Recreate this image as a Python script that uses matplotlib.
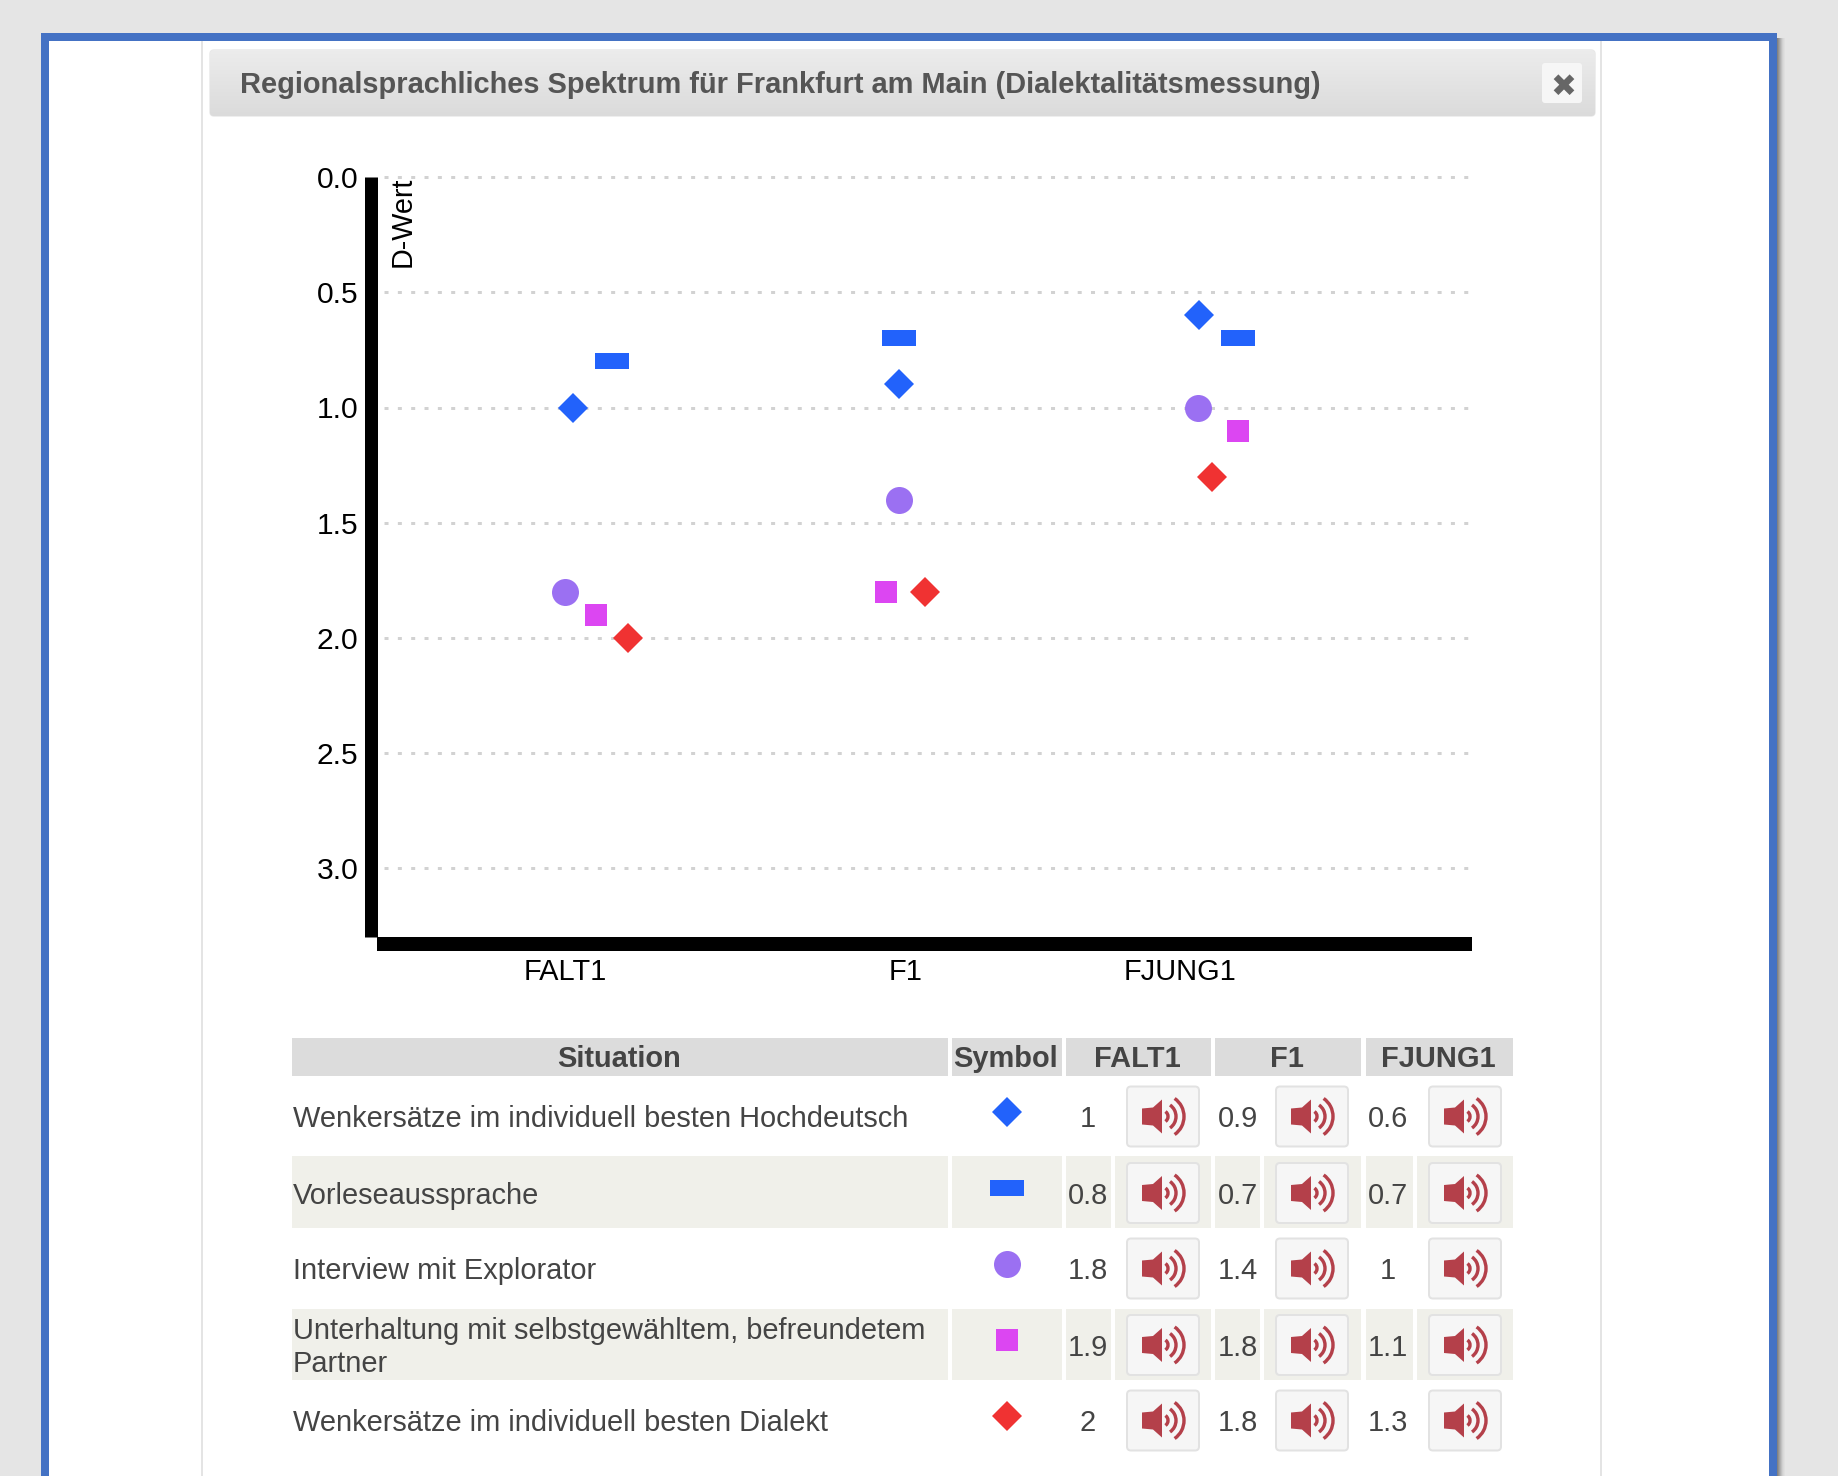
import numpy as np
import matplotlib
matplotlib.use("Agg")
import matplotlib.pyplot as plt
from matplotlib.patches import Rectangle, FancyBboxPatch, Polygon, Arc

plt.rcParams["font.family"] = ["Liberation Sans", "DejaVu Sans"]
plt.rcParams["lines.scale_dashes"] = False

W, H = 1838, 1476
PX = 72 / 100  # one pixel in points at dpi 100

title = "Regionalsprachliches Spektrum für Frankfurt am Main (Dialektalitätsmessung)"
speakers = ["FALT1", "F1", "FJUNG1"]
speaker_ticks = [565, 906, 1180]
situations = [
    "Wenkersätze im individuell besten Hochdeutsch",
    "Vorleseaussprache",
    "Interview mit Explorator",
    "Unterhaltung mit selbstgewähltem, befreundetem\nPartner",
    "Wenkersätze im individuell besten Dialekt",
]

# D-values, one list per situation (FALT1, F1, FJUNG1)
wenker_hd = [1, 0.9, 0.6]
vorlesen = [0.8, 0.7, 0.7]
interview = [1.8, 1.4, 1]
unterhaltung = [1.9, 1.8, 1.1]
wenker_dial = [2, 1.8, 1.3]
values = [wenker_hd, vorlesen, interview, unterhaltung, wenker_dial]

# horizontal spot of each mark
x_wenker_hd = [573, 899, 1199]
x_vorlesen = [612, 899, 1238]
x_interview = [565, 899, 1198]
x_unterhaltung = [596, 886, 1238]
x_wenker_dial = [628, 925, 1212]
x_values = [x_wenker_hd, x_vorlesen, x_interview, x_unterhaltung, x_wenker_dial]

y_ticks = [0.0, 0.5, 1.0, 1.5, 2.0, 2.5, 3.0]

BAR = [(-1, -0.49), (1, -0.49), (1, 0.49), (-1, 0.49)]
styles = [
    dict(marker="D", ms=21.5 * PX, color="#2262fb"),
    dict(marker=BAR, ms=34 * PX, color="#2262fb"),
    dict(marker="o", ms=27 * PX, color="#9b70f2"),
    dict(marker="s", ms=23 * PX, color="#dc46f2"),
    dict(marker="D", ms=21.5 * PX, color="#f03232"),
]


def fpx(px):
    return px * PX


fig = plt.figure(figsize=(W / 100, H / 100), dpi=100, facecolor="#e5e5e5")

# page furniture, drawn in pixel coordinates
bg = fig.add_axes([0, 0, 1, 1])
bg.set_xlim(0, W)
bg.set_ylim(H, 0)
bg.axis("off")


def box(x0, y0, x1, y1, color, z=1, **kw):
    bg.add_patch(Rectangle((x0, y0), x1 - x0, y1 - y0, facecolor=color, edgecolor="none", zorder=z, **kw))


# frame with its shadow
for i, a in enumerate([0.62, 0.52, 0.42, 0.32, 0.22, 0.13, 0.07, 0.03]):
    box(1777 + i, 38, 1778 + i, H, "#444444", z=1, alpha=a)
box(41, 33, 1777, H, "#4472c4", z=2)
box(49, 41, 1769, H, "white", z=3)
box(201, 41, 203, H, "#e4e4e4", z=4)
box(1600, 41, 1602, H, "#e4e4e4", z=4)

# header bar
head = FancyBboxPatch((212, 52), 1381, 62, boxstyle="round,pad=2,rounding_size=4",
                      facecolor="#dddddd", edgecolor="#e8e8e8", lw=1, zorder=5)
bg.add_patch(head)
grad = np.linspace(0, 1, 64).reshape(-1, 1)
im = bg.imshow(grad, extent=(210, 1595, 116, 50), aspect="auto", zorder=5.5,
               cmap=matplotlib.colors.LinearSegmentedColormap.from_list("h", ["#ececec", "#dbdbdb"]))
im.set_clip_path(head)
bg.set_xlim(0, W)
bg.set_ylim(H, 0)
bg.text(240, 85, title, fontsize=fpx(29.05), fontweight="bold", color="#555555", va="center", ha="left", zorder=6)
bg.add_patch(FancyBboxPatch((1544, 65), 36, 36, boxstyle="round,pad=2,rounding_size=3",
                            facecolor="#f6f6f6", edgecolor="none", zorder=6))
bg.text(1563, 87, "\u2716", fontsize=fpx(31), color="#666666", family="DejaVu Sans",
        ha="center", va="center", zorder=7)

# chart
L, R, T, B = 377, 1472, 177, 937
ax = fig.add_axes([L / W, 1 - B / H, (R - L) / W, (B - T) / H])
ax.patch.set_visible(False)
ax.set_xlim(L, R)
ax.set_ylim((B - T) / 230.5, 0)
ax.set_axisbelow(True)
ax.yaxis.grid(True, color="#d2d2d2", lw=fpx(3), linestyle=(fpx(6.3), (fpx(4), fpx(9.33))), clip_on=False)
for name in ["top", "right"]:
    ax.spines[name].set_visible(False)
ax.spines["left"].set_position(("outward", fpx(6.5)))
ax.spines["left"].set_linewidth(fpx(13))
ax.spines["bottom"].set_position(("outward", fpx(7)))
ax.spines["bottom"].set_linewidth(fpx(14))
ax.spines["left"].set_capstyle("butt")
ax.spines["bottom"].set_capstyle("butt")
ax.set_yticks(y_ticks, [f"{v:.1f}" for v in y_ticks])
ax.set_xticks(speaker_ticks, speakers)
ax.tick_params(length=0, labelsize=fpx(29), labelcolor="black")
ax.tick_params(axis="y", labelsize=fpx(30), pad=fpx(12))
ax.tick_params(axis="x", pad=fpx(14))
ax.text(403, 0, "D-Wert", rotation=90, fontsize=fpx(28.8), color="black", ha="center", va="top")

for vals, xs, st in zip(values, x_values, styles):
    ax.plot(xs, vals, ls="none", marker=st["marker"], ms=st["ms"], color=st["color"], mew=0, zorder=3)

# table below the chart
TXT = "#444444"
head_cols = [(292, 948, "Situation"), (952, 1062, "Symbol"), (1066, 1211, speakers[0]),
             (1215, 1361, speakers[1]), (1366, 1513, speakers[2])]
for x0, x1, lab in head_cols:
    box(x0, 1038, x1, 1076, "#dcdcdc", z=4)
    bg.text((x0 + x1) / 2 - 1, 1059, lab, fontsize=fpx(29), fontweight="bold", color=TXT, ha="center", va="center", zorder=5)

row_mid = [1116.5, 1193, 1268.5, 1345, 1420.5]
sym_mid = [1112, 1188, 1264, 1340, 1416]
stripes = [(1156, 1228), (1309, 1380)]
cells = [(292, 948), (952, 1062), (1066, 1111), (1115, 1211), (1215, 1260), (1264, 1361), (1366, 1413), (1417, 1513)]
for y0, y1 in stripes:
    for x0, x1 in cells:
        box(x0, y0, x1, y1, "#f0f0ea", z=4)

value_x = [1088, 1238, 1388]
button_x = [1127, 1276, 1429]


def speaker_icon(x0, ymid):
    bg.add_patch(FancyBboxPatch((x0 + 2, ymid - 28), 68, 56, boxstyle="round,pad=2,rounding_size=4",
                                facecolor="#f6f6f6", edgecolor="#e2e2e2", lw=fpx(2), zorder=5))
    cx = x0 + 35
    red = "#b4404a"
    bg.add_patch(Polygon([(cx - 20, ymid - 8), (cx - 9, ymid - 9), (cx, ymid - 17), (cx, ymid + 17),
                          (cx - 9, ymid + 9), (cx - 20, ymid + 8)], facecolor=red, edgecolor="none", zorder=6))
    for r in [6, 14, 22]:
        bg.add_patch(Arc((cx, ymid), 2 * r, 2 * r, theta1=-55, theta2=55, color=red, lw=fpx(3.4), zorder=6))


for i, lab in enumerate(situations):
    bg.text(293, row_mid[i] + 2.5, lab, fontsize=fpx(29.05), color=TXT, ha="left", va="center", linespacing=1.24, zorder=5)
    st = styles[i]
    bg.plot([1007], [sym_mid[i]], ls="none", marker=st["marker"], ms=st["ms"], color=st["color"], mew=0, zorder=6)
    for j in range(3):
        bg.text(value_x[j], row_mid[i] + 2.5, f"{values[i][j]:g}", fontsize=fpx(29.05), color=TXT,
                ha="center", va="center", zorder=5)
        speaker_icon(button_x[j], row_mid[i])

fig.savefig("out.png", dpi=100, facecolor=fig.get_facecolor())
